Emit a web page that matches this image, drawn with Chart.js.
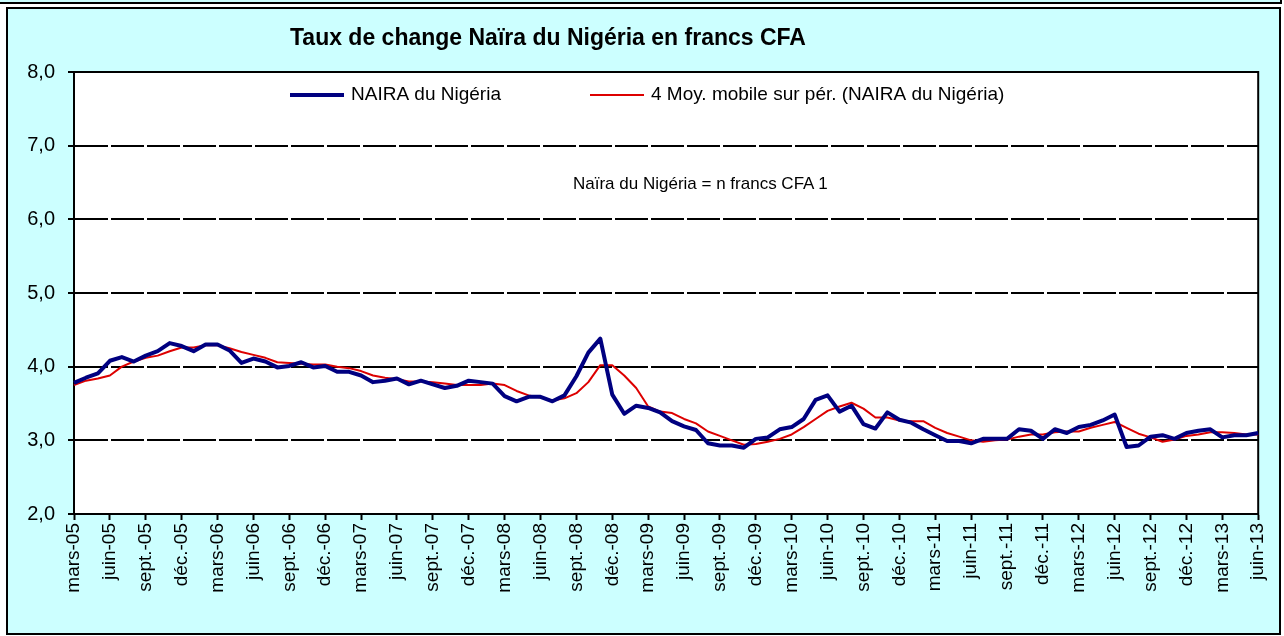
<!DOCTYPE html>
<html lang="fr">
<head>
<meta charset="utf-8">
<title>Taux de change Naïra du Nigéria en francs CFA</title>
<script src="https://cdn.jsdelivr.net/npm/chart.js@4.4.1/dist/chart.umd.min.js"></script>
<style>
  html, body { margin: 0; padding: 0; background: #fff; overflow: hidden; }
  body { width: 1284px; height: 636px; position: relative; font-family: "Liberation Sans", Arial, sans-serif; }
  .cadre-haut { position: absolute; left: -10px; top: -24px; width: 1288px; height: 24px; border: 2px solid #000; background: #ccffff; z-index: 0; }
  .cadre { position: absolute; left: 6px; top: 7px; width: 1271px; height: 624px; border: 2px solid #000; background: #ccffff; z-index: 0; }
  #graph { position: absolute; left: 0; top: 0; z-index: 1; }
  .titre { position: absolute; left: 290px; top: 26px; font-weight: bold; font-size: 23px; line-height: 23px; white-space: nowrap; z-index: 2; }
  .note { position: absolute; left: 573px; top: 175px; font-size: 17px; line-height: 17px; white-space: nowrap; z-index: 2; }
</style>
</head>
<body>
<div class="cadre-haut"></div>
<div class="cadre"></div>
<canvas id="graph" width="1284" height="636"></canvas>
<div class="titre">Taux de change Naïra du Nigéria en francs CFA</div>
<div class="note">Naïra du Nigéria = n francs CFA 1</div>

<script>
// mois de mars 2005 à juin 2013
const moisFr = ["janv.", "févr.", "mars", "avr.", "mai", "juin", "juil.", "août", "sept.", "oct.", "nov.", "déc."];
const categories = [];
for (let a = 2005; a <= 2013; a++) {
  for (let m = 0; m < 12; m++) {
    if (a === 2005 && m < 2) continue;
    if (a === 2013 && m > 5) continue;
    categories.push(moisFr[m] + "-" + String(a).slice(2));
  }
}

const naira = [
  3.78, 3.85, 3.91, 4.08, 4.13, 4.07, 4.15, 4.21, 4.32, 4.28,
  4.21, 4.30, 4.30, 4.22, 4.05, 4.11, 4.07, 3.99, 4.01, 4.06,
  3.99, 4.01, 3.93, 3.93, 3.88, 3.79, 3.81, 3.84, 3.76, 3.81,
  3.76, 3.71, 3.74, 3.81, 3.79, 3.77, 3.60, 3.53, 3.59, 3.59,
  3.53, 3.61, 3.87, 4.19, 4.38, 3.62, 3.36, 3.47, 3.44, 3.38,
  3.26, 3.19, 3.14, 2.96, 2.93, 2.93, 2.90, 3.02, 3.04, 3.15,
  3.18, 3.29, 3.55, 3.61, 3.39, 3.47, 3.22, 3.16, 3.38, 3.28,
  3.24, 3.15, 3.07, 2.99, 2.99, 2.96, 3.02, 3.02, 3.02, 3.15,
  3.13, 3.02, 3.15, 3.10, 3.18, 3.21, 3.27, 3.35, 2.91, 2.93,
  3.05, 3.07, 3.02, 3.10, 3.13, 3.15, 3.04, 3.07, 3.07, 3.10
];

const moyMobile = [
  3.75, 3.81, 3.84, 3.88, 4.00, 4.07, 4.12, 4.15, 4.21, 4.26,
  4.26, 4.29, 4.29, 4.25, 4.20, 4.16, 4.12, 4.06, 4.05, 4.04,
  4.03, 4.03, 4.00, 3.98, 3.94, 3.88, 3.85, 3.83, 3.80, 3.80,
  3.79, 3.77, 3.75, 3.75, 3.75, 3.77, 3.75, 3.67, 3.61, 3.58,
  3.54, 3.57, 3.64, 3.79, 4.02, 4.02, 3.88, 3.71, 3.46, 3.39,
  3.37, 3.29, 3.23, 3.12, 3.06, 3.00, 2.94, 2.95, 2.98, 3.02,
  3.08, 3.18, 3.29, 3.40, 3.46, 3.51, 3.43, 3.31, 3.31, 3.27,
  3.26, 3.26, 3.17, 3.10, 3.05, 3.00, 2.98, 3.00, 3.01, 3.05,
  3.08, 3.08, 3.11, 3.12, 3.12, 3.17, 3.21, 3.25, 3.17, 3.09,
  3.04, 2.98, 3.01, 3.06, 3.08, 3.11, 3.11, 3.10, 3.08, 3.08
];

const police = '"Liberation Sans", Arial, sans-serif';
Chart.defaults.font.family = police;
Chart.defaults.color = "#000";

// fond blanc + cadre de la zone de tracé
const zoneTrace = {
  id: "zoneTrace",
  beforeDraw(chart) {
    const { ctx, chartArea: a } = chart;
    ctx.save();
    ctx.fillStyle = "#fff";
    ctx.fillRect(a.left, a.top, a.right - a.left, a.bottom - a.top);
    ctx.restore();
  },
  beforeDatasetsDraw(chart) {
    const { ctx, chartArea: a } = chart;
    ctx.save();
    ctx.strokeStyle = "#000";
    ctx.lineWidth = 2;
    ctx.strokeRect(a.left, a.top, a.right - a.left, a.bottom - a.top);
    ctx.restore();
  }
};

// légende à l'intérieur du tracé, comme dans Excel
const legendeLignes = {
  id: "legendeLignes",
  afterDraw(chart) {
    const { ctx, chartArea: a } = chart;
    const y = a.top + 23;
    const xs = [a.left + 216, a.left + 516];
    ctx.save();
    ctx.font = "19px " + police;
    ctx.textBaseline = "middle";
    ctx.fillStyle = "#000";
    chart.data.datasets.forEach((ds, i) => {
      const x = xs[i];
      ctx.strokeStyle = ds.borderColor;
      ctx.lineWidth = ds.borderWidth;
      ctx.beginPath();
      ctx.moveTo(x, y);
      ctx.lineTo(x + 54, y);
      ctx.stroke();
      ctx.fillText(ds.label, x + 61, y);
    });
    ctx.restore();
  }
};

new Chart(document.getElementById("graph"), {
  type: "line",
  data: {
    labels: categories,
    datasets: [
      {
        label: "NAIRA du Nigéria",
        data: naira,
        borderColor: "#000080",
        borderWidth: 4,
        pointRadius: 0,
        tension: 0,
        borderJoinStyle: "round"
      },
      {
        label: "4 Moy. mobile sur pér. (NAIRA du Nigéria)",
        data: moyMobile,
        borderColor: "#dd0000",
        borderWidth: 2,
        pointRadius: 0,
        tension: 0,
        borderJoinStyle: "round"
      }
    ]
  },
  options: {
    responsive: false,
    devicePixelRatio: 1,
    animation: false,
    layout: { padding: { top: 72, right: 22, bottom: 0, left: 0 } },
    plugins: {
      legend: { display: false },
      title: { display: false },
      tooltip: { enabled: false }
    },
    scales: {
      x: {
        afterFit: (s) => { s.height = 122; },
        grid: {
          drawOnChartArea: false,
          drawTicks: true,
          tickLength: 6,
          tickWidth: 2,
          tickColor: (c) => (c.index % 3 === 0 ? "#000" : "rgba(0,0,0,0)")
        },
        border: { display: true, color: "#000", width: 2 },
        ticks: {
          autoSkip: false,
          minRotation: 90,
          maxRotation: 90,
          padding: 3,
          font: { size: 19 },
          color: "#000",
          callback: (v, i) => (i % 3 === 0 ? categories[i] : "")
        }
      },
      y: {
        min: 2,
        max: 8,
        afterFit: (s) => { s.width = 74; },
        grid: {
          color: "#000",
          lineWidth: 2,
          tickLength: 6,
          tickWidth: 2,
          tickColor: "#000",
          tickBorderDash: []
        },
        border: { display: true, color: "#000", width: 2, dash: [33, 3] },
        ticks: {
          stepSize: 1,
          padding: 13,
          font: { size: 20 },
          color: "#000",
          callback: (v) => v.toFixed(1).replace(".", ",")
        }
      }
    }
  },
  plugins: [zoneTrace, legendeLignes]
});
</script>
</body>
</html>
